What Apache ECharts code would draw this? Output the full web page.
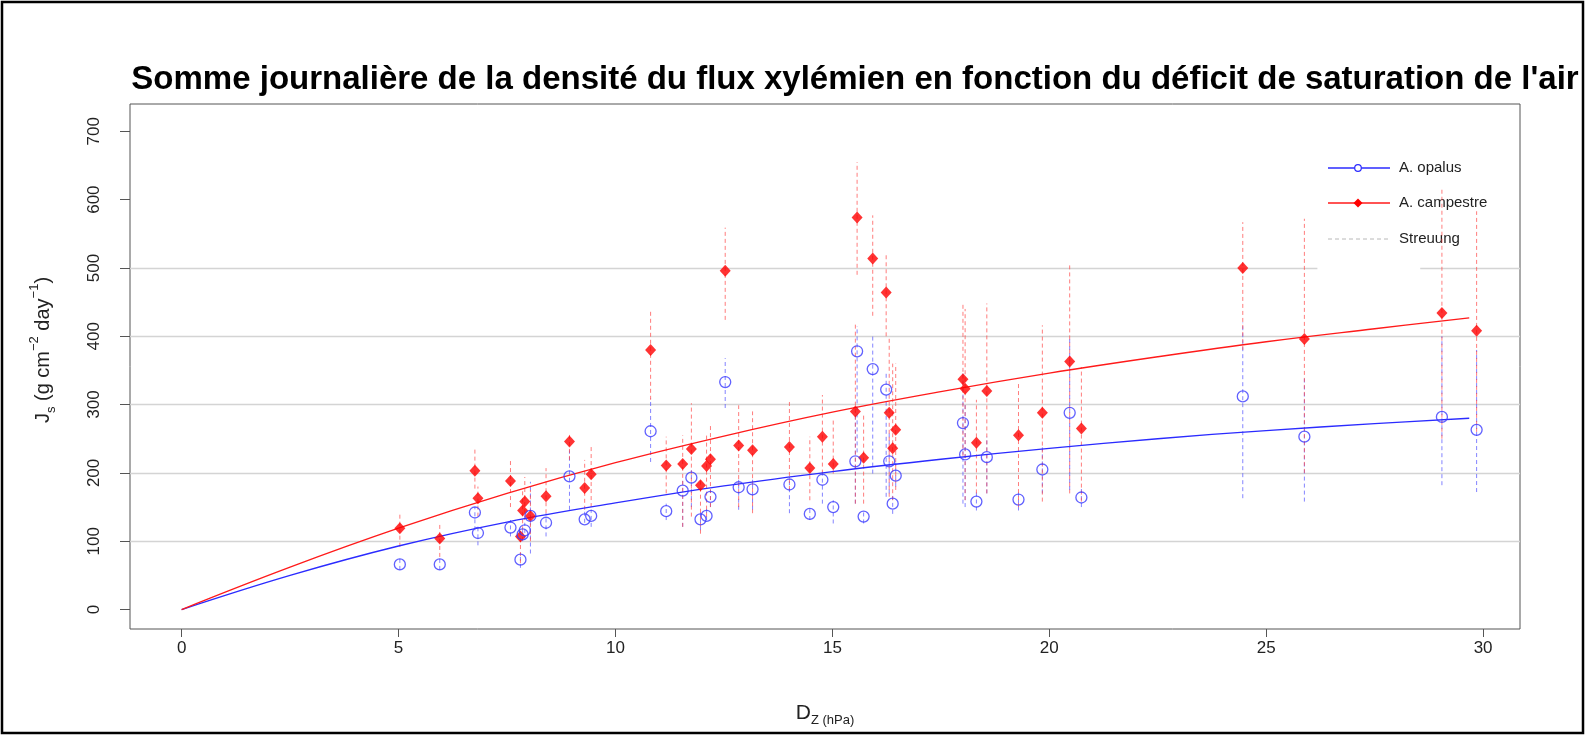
<!DOCTYPE html>
<html><head><meta charset="utf-8">
<script src="https://cdn.jsdelivr.net/npm/echarts@6/dist/echarts.min.js"></script>
<style>html,body{margin:0;padding:0;background:#fff}#c{width:1586px;height:736px}</style>
</head><body><div id="c"></div>
<script>
// ---- data ----
const dz = [5.03, 5.95, 6.76, 6.83, 7.58, 7.81, 7.86, 7.91, 8.04, 8.40, 8.94, 9.29, 9.44, 10.81, 11.17, 11.55, 11.75, 11.96, 12.10, 12.19, 12.53, 12.84, 13.16, 14.01, 14.48, 14.77, 15.02, 15.53, 15.57, 15.72, 15.93, 16.24, 16.31, 16.39, 16.46, 18.01, 18.06, 18.32, 18.56, 19.29, 19.84, 20.47, 20.74, 24.46, 25.88, 29.05, 29.85];
const opalus = [66, 66, 142, 112, 120, 73, 110, 116, 137, 127, 195, 132, 137, 261, 144, 174, 193, 132, 137, 165, 333, 179, 176, 183, 140, 190, 150, 217, 378, 136, 352, 322, 217, 155, 196, 273, 227, 158, 223, 161, 205, 288, 164, 312, 253, 282, 263];
const opalusLo = [58, 58, 116, 94, 107, 61, 100, 102, 82, 107, 146, 127, 121, 216, 131, 121, 150, 116, 131, 150, 295, 146, 146, 141, 131, 155, 126, 155, 230, 126, 199, 165, 170, 140, 180, 155, 150, 145, 170, 145, 170, 175, 150, 163, 158, 182, 172];
const opalusHi = [76, 76, 150, 121, 131, 83, 120, 127, 187, 141, 233, 146, 146, 309, 155, 190, 204, 146, 150, 175, 368, 190, 190, 194, 150, 204, 160, 290, 415, 146, 404, 346, 260, 170, 215, 350, 300, 175, 253, 175, 240, 400, 180, 420, 340, 400, 380];
const campestre = [119, 104, 203, 163, 188, 107, 145, 158, 137, 166, 246, 178, 198, 380, 211, 213, 235, 182, 210, 220, 496, 240, 233, 238, 207, 253, 213, 290, 574, 222, 514, 464, 288, 236, 263, 337, 323, 244, 320, 255, 288, 363, 265, 500, 396, 434, 408];
const campestreLo = [92, 77, 177, 136, 150, 68, 116, 131, 100, 141, 219, 146, 150, 307, 170, 121, 136, 111, 136, 150, 424, 150, 141, 175, 160, 199, 199, 155, 490, 155, 430, 400, 165, 160, 175, 225, 160, 170, 170, 150, 158, 170, 158, 380, 200, 250, 260];
const campestreHi = [143, 126, 236, 180, 221, 116, 175, 194, 175, 207, 258, 219, 241, 436, 253, 255, 302, 190, 255, 273, 559, 299, 290, 304, 253, 314, 277, 420, 655, 287, 577, 519, 399, 360, 360, 450, 440, 307, 448, 331, 416, 507, 355, 567, 572, 617, 583];
const fitX = [0, 2.5, 5, 7.5, 10, 12.5, 15, 17.5, 20, 22.5, 25, 27.5, 29.68];
const fitOpalus = [0, 50, 93, 128, 156, 181, 202, 220, 236, 250, 262, 272, 280];
const fitCampestre = [0, 62, 119, 170, 215, 254, 289, 319, 346, 370, 392, 411, 427];
const xTicks = [0, 5, 10, 15, 20, 25, 30];
const yTicks = [0, 100, 200, 300, 400, 500, 600, 700];
const gridLevels = [100, 200, 300, 400, 500];
const seriesNames = ['A. opalus', 'A. campestre', 'Streuung'];
const titleText = "Somme journalière de la densité du flux xylémien en fonction du déficit de saturation de l'air";

// ---- chart ----
const X_MIN = -1.19, X_MAX = 30.85, Y_MIN = -28.5, Y_MAX = 740;
const BLUE = '#2b2bff', RED = '#ff1a1a';
const chart = echarts.init(document.getElementById('c'), null, {renderer: 'canvas'});

function errBars(lo, hi, color) {
  return {
    type: 'custom', silent: true, z: 2,
    data: dz.map((x, i) => [x, lo[i], hi[i]]),
    encode: {x: 0, y: [1, 2]},
    renderItem: (params, api) => {
      const p1 = api.coord([api.value(0), api.value(1)]);
      const p2 = api.coord([api.value(0), api.value(2)]);
      return {type: 'line', shape: {x1: p1[0], y1: p1[1], x2: p2[0], y2: p2[1]},
        style: {stroke: color, lineWidth: 1, lineDash: [4, 3]}};
    }
  };
}

const gridData = [];
gridLevels.forEach(v => {
  if (v === 500) {
    gridData.push([{coord: [X_MIN, v]}, {coord: [26.18, v]}]);
    gridData.push([{coord: [28.55, v]}, {coord: [X_MAX, v]}]);
  } else {
    gridData.push([{coord: [X_MIN, v]}, {coord: [X_MAX, v]}]);
  }
});

const FONT = '"Liberation Sans", Arial, sans-serif';

const option = {
  backgroundColor: '#fff',
  animation: false,
  grid: {left: 130, right: 66, top: 104, bottom: 107, show: true, borderColor: '#555', borderWidth: 1, backgroundColor: 'transparent'},
  xAxis: {
    type: 'value', min: X_MIN, max: X_MAX, position: 'bottom',
    axisLine: {show: false, onZero: false},
    axisTick: {show: true, inside: false, length: 8, lineStyle: {color: '#555'}, customValues: xTicks},
    axisLabel: {customValues: xTicks, margin: 11, color: '#222', fontSize: 17, fontFamily: FONT},
    splitLine: {show: false}
  },
  yAxis: {
    type: 'value', min: Y_MIN, max: Y_MAX, position: 'left',
    axisLine: {show: false, onZero: false},
    axisTick: {show: true, inside: false, length: 10, lineStyle: {color: '#555'}, customValues: yTicks},
    axisLabel: {customValues: yTicks, rotate: 90, margin: 27, color: '#222', fontSize: 17, fontFamily: FONT},
    splitLine: {show: false}
  },
  series: [
    Object.assign(errBars(opalusLo, opalusHi, 'rgba(80,80,255,0.7)'), {
      markLine: {silent: true, symbol: 'none', label: {show: false},
        lineStyle: {color: '#d4d4d4', type: 'solid', width: 1.3}, data: gridData, z: 1}
    }),
    errBars(campestreLo, campestreHi, 'rgba(255,70,70,0.7)'),
    {name: seriesNames[0] + ' fit', type: 'line', smooth: 0.4, showSymbol: false, z: 3,
      data: fitX.map((x, i) => [x, fitOpalus[i]]), lineStyle: {color: BLUE, width: 1.3}},
    {name: seriesNames[1] + ' fit', type: 'line', smooth: 0.4, showSymbol: false, z: 3,
      data: fitX.map((x, i) => [x, fitCampestre[i]]), lineStyle: {color: RED, width: 1.3}},
    {name: seriesNames[1], type: 'scatter', symbol: 'diamond', symbolSize: [11, 12], z: 4,
      data: dz.map((x, i) => [x, campestre[i]]), itemStyle: {color: '#ff0000'}},
    {name: seriesNames[0], type: 'scatter', symbol: 'circle', symbolSize: 11, z: 5,
      data: dz.map((x, i) => [x, opalus[i]]),
      itemStyle: {color: 'rgba(0,0,0,0)', borderColor: '#3a3aff', borderWidth: 1.3}}
  ],
  graphic: [
    {type: 'rect', shape: {x: 2, y: 2, width: 1581, height: 731}, style: {fill: 'none', stroke: '#000', lineWidth: 2.5}, z: 100},
    {type: 'text', x: 855, y: 80, style: {text: titleText, font: 'bold 33px ' + FONT, fill: '#000', textAlign: 'center', textVerticalAlign: 'middle'}},
    {type: 'text', x: 43, y: 350, rotation: Math.PI / 2,
      style: {text: '{a|J}{s|s}{a| (g cm}{p|−2}{a| day}{p|−1}{a|)}', textAlign: 'center', textVerticalAlign: 'middle', fill: '#222',
        rich: {a: {fontSize: 20, fontFamily: FONT, lineHeight: 30, verticalAlign: 'middle', fill: '#222'},
               s: {fontSize: 13, fontFamily: FONT, lineHeight: 30, verticalAlign: 'bottom', fill: '#222'},
               p: {fontSize: 13, fontFamily: FONT, lineHeight: 30, verticalAlign: 'top', fill: '#222'}}}},
    {type: 'text', x: 825, y: 713,
      style: {text: '{a|D}{s|Z (hPa)}', textAlign: 'center', textVerticalAlign: 'middle', fill: '#222',
        rich: {a: {fontSize: 21, fontFamily: FONT, lineHeight: 28, verticalAlign: 'middle', fill: '#222'},
               s: {fontSize: 13, fontFamily: FONT, lineHeight: 28, verticalAlign: 'bottom', fill: '#222'}}}},
    // legend
    {type: 'line', shape: {x1: 1328, y1: 168, x2: 1390, y2: 168}, style: {stroke: BLUE, lineWidth: 1.3}},
    {type: 'circle', shape: {cx: 1358, cy: 168, r: 3.3}, style: {fill: '#fff', stroke: BLUE, lineWidth: 1.2}},
    {type: 'text', x: 1399, y: 168, style: {text: seriesNames[0], font: '15px ' + FONT, fill: '#222', textVerticalAlign: 'middle'}},
    {type: 'line', shape: {x1: 1328, y1: 203, x2: 1390, y2: 203}, style: {stroke: RED, lineWidth: 1.3}},
    {type: 'polygon', shape: {points: [[1358, 198.5], [1362.5, 203], [1358, 207.5], [1353.5, 203]]}, style: {fill: '#ff0000'}},
    {type: 'text', x: 1399, y: 203, style: {text: seriesNames[1], font: '15px ' + FONT, fill: '#222', textVerticalAlign: 'middle'}},
    {type: 'line', shape: {x1: 1328, y1: 239, x2: 1390, y2: 239}, style: {stroke: '#b8b8b8', lineWidth: 1, lineDash: [4, 3]}},
    {type: 'text', x: 1399, y: 239, style: {text: seriesNames[2], font: '15px ' + FONT, fill: '#222', textVerticalAlign: 'middle'}}
  ]
};
chart.setOption(option);
</script>
</body></html>
